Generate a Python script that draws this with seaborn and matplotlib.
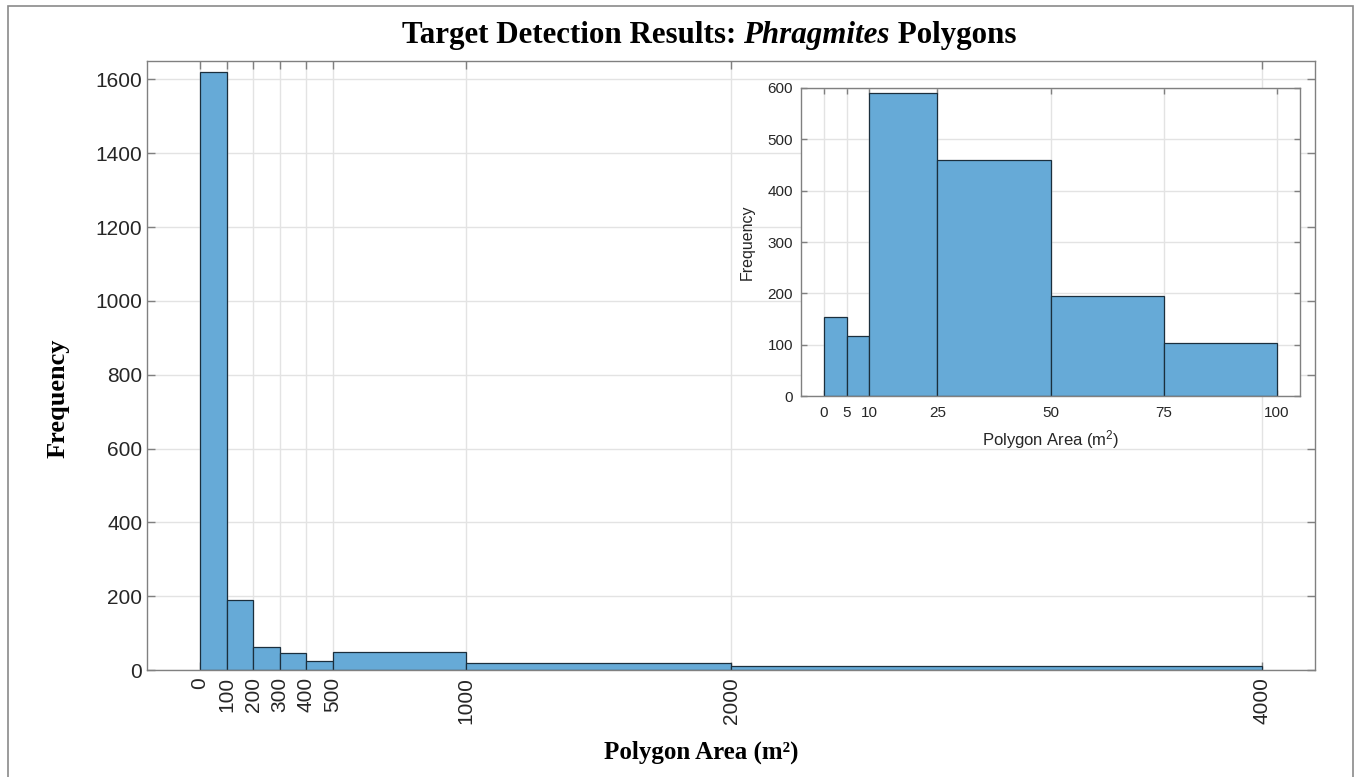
import numpy as np
import pandas as pd
import matplotlib
matplotlib.use("Agg")
import matplotlib.pyplot as plt
import seaborn as sns
from matplotlib.patches import Rectangle

# ---- data ----
main_edges = [0, 100, 200, 300, 400, 500, 1000, 2000, 4000]
main_counts = [1620, 191, 62, 46, 25, 48, 18, 11]
main_xticks = [0, 100, 200, 300, 400, 500, 1000, 2000, 4000]
main_yticks = [0, 200, 400, 600, 800, 1000, 1200, 1400, 1600]

inset_edges = [0, 5, 10, 25, 50, 75, 100]
inset_counts = [155, 118, 590, 459, 195, 103]
inset_xticks = [0, 5, 10, 25, 50, 75, 100]
inset_yticks = [0, 100, 200, 300, 400, 500, 600]

title_parts = ["Target Detection Results: ", "Phragmites", " Polygons"]
title_styles = ["normal", "italic", "normal"]

sns.set_theme(style="white")
plt.rcParams['font.family'] = ['Liberation Sans', 'DejaVu Sans']
plt.rcParams['mathtext.fontset'] = 'custom'
plt.rcParams['mathtext.rm'] = 'Liberation Sans'
plt.rcParams['mathtext.it'] = 'Liberation Sans:italic'
plt.rcParams['mathtext.bf'] = 'Liberation Sans:bold'

face = "#66aad7"
edge = "#1b2f3d"
spine_c = "#808080"
grid_c = "#e3e3e3"
text_c = "#262626"

fig = plt.figure(figsize=(13.56, 7.77), dpi=100)

def mids(e):
    return [(a + b) / 2 for a, b in zip(e[:-1], e[1:])]

def style_ax(ax, fs, ln):
    for s in ax.spines.values():
        s.set_color(spine_c)
        s.set_linewidth(1.0)
        s.set_visible(True)
    ax.tick_params(direction="in", length=ln, width=1, color=spine_c,
                   top=True, right=True, labelsize=fs, labelcolor=text_c,
                   bottom=True, left=True)
    ax.grid(True, color=grid_c, linewidth=1.0)
    ax.set_axisbelow(True)

# ---- main axes ----
ax = fig.add_axes([0.1084, 0.1377, 0.8616, 0.7838])
main_df = pd.DataFrame({"area": mids(main_edges), "count": main_counts})
sns.histplot(data=main_df, x="area", weights="count", bins=main_edges,
             ax=ax, color=face, alpha=1.0, edgecolor=edge, linewidth=0.9)
ax.set_xlim(-200, 4200)
ax.set_ylim(0, 1650)
ax.set_xticks(main_xticks)
ax.set_xticklabels([str(t) for t in main_xticks], rotation=90)
ax.set_yticks(main_yticks)
style_ax(ax, 15, 6)
ax.tick_params(axis="x", pad=5)
ax.set_xlabel("Polygon Area (m²)", fontsize=18, fontweight="bold",
              family="Liberation Serif", color="black")
ax.set_ylabel("Frequency", fontsize=19, fontweight="bold",
              family="Liberation Serif", color="black")
# place axis labels where the reference has them
ax.xaxis.set_label_coords((701 - 147) / 1168, (670 - 752) / 609)
ax.xaxis.label.set_va("center")
ax.yaxis.set_label_coords((58 - 147) / 1168, (670 - 398) / 609)
ax.yaxis.label.set_va("center")

# ---- title with italic word, assembled piece by piece ----
fig.canvas.draw()
renderer = fig.canvas.get_renderer()
tfs = 22.3
pieces = []
for txt, sty in zip(title_parts, title_styles):
    t = fig.text(0, 1 - 35 / 777, txt, ha="left", va="center", fontsize=tfs,
                 fontweight="bold", fontstyle=sty, family="Liberation Serif",
                 color="black")
    pieces.append(t)
widths = [p.get_window_extent(renderer).width for p in pieces]
total = sum(widths)
cx = 709 / 1356 * fig.bbox.width
x0 = cx - total / 2
for p, w in zip(pieces, widths):
    p.set_x(x0 / fig.bbox.width)
    x0 += w

# ---- inset ----
ax2 = fig.add_axes([0.591, 0.490, 0.3675, 0.397])
inset_df = pd.DataFrame({"area": mids(inset_edges), "count": inset_counts})
sns.histplot(data=inset_df, x="area", weights="count", bins=inset_edges,
             ax=ax2, color=face, alpha=1.0, edgecolor=edge, linewidth=0.9)
ax2.set_facecolor("white")
ax2.set_xlim(-5, 105)
ax2.set_ylim(0, 600)
ax2.set_xticks(inset_xticks)
ax2.set_yticks(inset_yticks)
style_ax(ax2, 11, 4)
ax2.tick_params(axis="x", pad=7)
ax2.tick_params(axis="y", pad=6)
ax2.set_xlabel("Polygon Area (m$^2$)", fontsize=12, color=text_c, labelpad=6)
ax2.set_ylabel("Frequency", fontsize=11.5, color=text_c, labelpad=9)

# ---- figure frame ----
fig.patches.append(Rectangle((8 / 1356, -0.02), (1353 - 8) / 1356, 1.02 - 6 / 777,
                             transform=fig.transFigure, fill=False,
                             edgecolor="#8a8a8a", linewidth=1.2))

fig.savefig("out.png", dpi=100)
